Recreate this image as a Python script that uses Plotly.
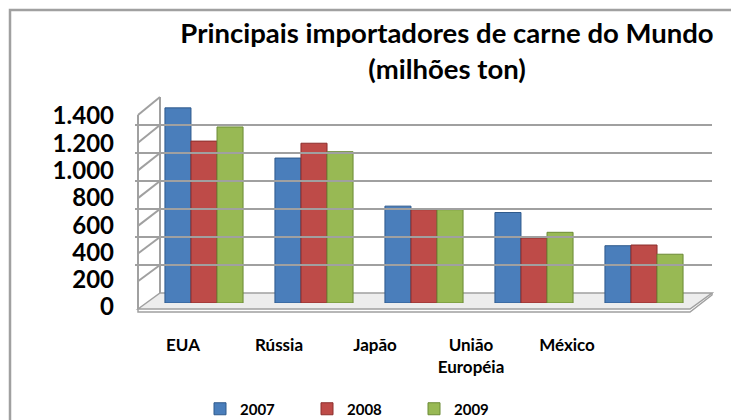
import plotly.graph_objects as go

W, H = 739, 420
OFF = 8  # page body margin in the browser

categories = ["EUA", "Rússia", "Japão", "União<br>Européia", "México"]
series_names = ["2007", "2008", "2009"]
v2007 = [1380, 1025, 685, 640, 405]
v2008 = [1145, 1130, 660, 460, 410]
v2009 = [1245, 1070, 660, 500, 345]
series_values = [v2007, v2008, v2009]
colors = ["#4A7EBB", "#BE4B48", "#98B954"]
line_colors = ["#2F5A8C", "#8C2F2D", "#6B8A35"]
tick_vals = [0, 200, 400, 600, 800, 1000, 1200, 1400]
tick_text = ["0", "200", "400", "600", "800", "1.000", "1.200", "1.400"]
title_text = "Principais importadores de carne do Mundo<br>(milhões ton)"

FONT = "Lato"


def fx(x):
    return (x - OFF) / W


def fy(y):
    return 1 - (y - OFF) / H


fig = go.Figure()

for name, vals, c, lc in zip(series_names, series_values, colors, line_colors):
    fig.add_trace(go.Bar(
        x=list(range(len(categories))), y=vals, name="<b>" + name + "</b>",
        marker=dict(color=c, line=dict(color=lc, width=1)),
        xaxis="x", yaxis="y", hoverinfo="y",
    ))

fig.add_trace(go.Scatter(x=[0], y=[0], xaxis="x2", yaxis="y2", mode="markers",
                         marker=dict(opacity=0), showlegend=False, hoverinfo="skip"))
fig.add_trace(go.Scatter(x=[0], y=[0], xaxis="x2", yaxis="y3", mode="markers",
                         marker=dict(opacity=0), showlegend=False, hoverinfo="skip"))
fig.add_trace(go.Scatter(x=[0], y=[0], xaxis="x3", yaxis="y2", mode="markers",
                         marker=dict(opacity=0), showlegend=False, hoverinfo="skip"))

shapes = []
gray = "#A0A0A0"
xf, xb = 138, 160
xr_back, xr_front = 712, 690
yb0, yf0 = 293, 309
sb, sf = 0.14, 0.1386
shapes.append(dict(type="path", xref="paper", yref="paper",
                   path=f"M{fx(xf)},{fy(yf0)} L{fx(xb)},{fy(yb0)} L{fx(xr_back)},{fy(yb0)} L{fx(xr_front)},{fy(yf0)} Z",
                   fillcolor="#EDEDED", line=dict(color=gray, width=1.5), layer="below"))
shapes.append(dict(type="path", xref="paper", yref="paper",
                   path=f"M{fx(xf)},{fy(yf0)} L{fx(xf)},{fy(yf0+3)} L{fx(xr_front)},{fy(yf0+3)} L{fx(xr_back)},{fy(yb0+2)} L{fx(xr_back)},{fy(yb0)}",
                   line=dict(color=gray, width=1.5), layer="below"))
shapes.append(dict(type="line", xref="paper", yref="paper",
                   x0=fx(xf), x1=fx(xf), y0=fy(yf0), y1=fy(yf0 - sf * 1400),
                   line=dict(color=gray, width=2), layer="below"))
shapes.append(dict(type="line", xref="paper", yref="paper",
                   x0=fx(xb), x1=fx(xb), y0=fy(yb0), y1=fy(yb0 - sb * 1400),
                   line=dict(color=gray, width=2), layer="below"))
for v in tick_vals[1:]:
    shapes.append(dict(type="line", xref="paper", yref="paper",
                       x0=fx(xf), x1=fx(xb), y0=fy(yf0 - sf * v), y1=fy(yb0 - sb * v),
                       line=dict(color=gray, width=2), layer="below"))
shapes.append(dict(type="rect", xref="paper", yref="paper",
                   x0=fx(10), x1=fx(770), y0=fy(10), y1=fy(450),
                   line=dict(color="#A0A0A0", width=2.5), layer="below"))

fig.update_layout(
    width=W, height=H,
    margin=dict(l=0, r=0, t=0, b=0, autoexpand=False),
    paper_bgcolor="white", plot_bgcolor="rgba(0,0,0,0)",
    font=dict(family=FONT, color="black"),
    barmode="group", bargap=0.29, bargroupgap=0.0,
    shapes=shapes,
    title=dict(text="<b>" + title_text + "</b>", x=fx(447), xanchor="center",
               y=fy(43), yanchor="middle",
               font=dict(family=FONT, size=27.5, color="black")),
    xaxis=dict(domain=[fx(149), fx(699)], range=[-0.5, 4.5], anchor="y",
               showgrid=False, showticklabels=False, zeroline=False, showline=False, fixedrange=True),
    yaxis=dict(domain=[fy(303), fy(303 - 0.1414 * 1500)], range=[0, 1500], anchor="x",
               showgrid=False, showticklabels=False, zeroline=False, showline=False),
    xaxis2=dict(domain=[fx(xb), fx(xr_back)], range=[0, 1], anchor="y2",
                showgrid=False, showticklabels=False, zeroline=False, showline=False),
    yaxis2=dict(domain=[fy(yb0), fy(yb0 - sb * 1400)], range=[0, 1400], anchor="x2",
                tickvals=tick_vals, showgrid=True, gridcolor=gray, gridwidth=2,
                showticklabels=False, zeroline=False, showline=False),
    yaxis3=dict(domain=[fy(307), fy(116)], range=[0, 1400], anchor="free", position=fx(114),
                tickvals=tick_vals, ticktext=["<b>" + t + "</b>" for t in tick_text],
                tickfont=dict(family=FONT, size=24, color="black"),
                showgrid=False, zeroline=False, showline=False, ticks=""),
    xaxis3=dict(domain=[fx(135), fx(615)], range=[-0.5, 4.5], anchor="free", position=fy(333),
                tickvals=list(range(len(categories))),
                ticktext=["<b>" + c + "</b>" for c in categories],
                tickfont=dict(family=FONT, size=17, color="black"),
                showgrid=False, zeroline=False, showline=False, ticks=""),
    legend=dict(orientation="h", x=fx(200), xanchor="left", y=fy(409), yanchor="middle",
                font=dict(family=FONT, size=15, color="black"),
                entrywidth=62, entrywidthmode="pixels", traceorder="normal",
                bgcolor="rgba(0,0,0,0)"),
    showlegend=True,
)

fig.write_html("out.html")
